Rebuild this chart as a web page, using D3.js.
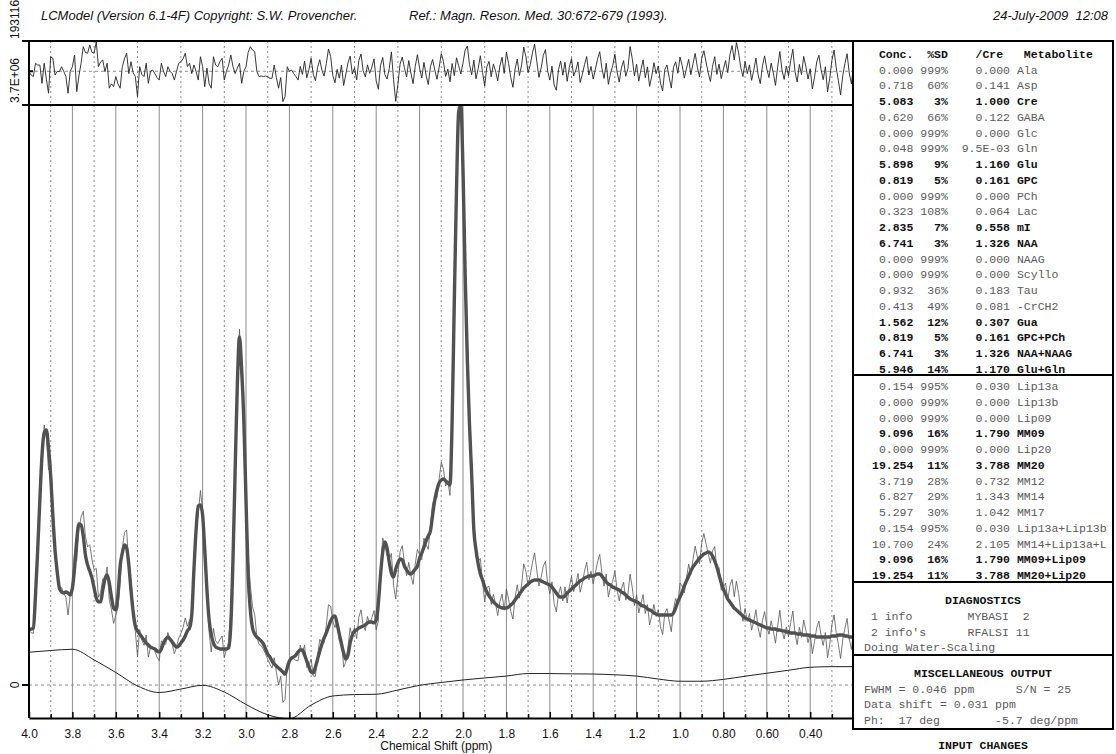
<!DOCTYPE html>
<html>
<head>
<meta charset="utf-8">
<script src="https://cdn.jsdelivr.net/npm/d3@7"></script>
<style>
  body { margin: 0; background: #fff; }
  svg text { white-space: pre; }
</style>
</head>
<body>
<svg id="chart" width="1116" height="754"></svg>
<script>
// ---------------- spectrum (values in units of 1e4) ----------------
const ppmStart = 4.0;
const ppmStep = 0.01;

// LCModel fit, sampled every 0.01 ppm from 4.00 down to 0.20
const fitValues = [
  35.1,35.7,36.4,57.4,86.1,118.0,146.7,160.8,162.7,151.2,
  133.3,107.8,86.1,72.1,61.9,59.3,58.7,59.3,58.7,57.4,
  61.9,74.6,92.5,102.7,102.1,95.1,82.9,76.6,72.7,68.3,
  61.9,55.5,53.0,53.0,60.6,67.6,70.2,65.1,56.1,49.1,
  47.9,57.4,75.9,84.2,89.3,87.4,76.6,60.6,46.6,37.6,
  34.5,32.5,30.6,28.7,26.8,25.5,24.2,23.6,23.0,21.7,
  21.1,23.0,26.8,29.3,30.6,29.3,27.4,25.5,24.2,24.9,
  26.8,28.7,31.3,34.5,36.4,44.7,73.4,98.9,114.2,114.8,
  108.5,86.1,60.6,41.5,31.9,26.8,24.2,23.6,23.0,23.0,
  23.0,23.0,23.6,38.3,79.8,137.2,191.4,222.0,201.0,169.1,
  118.0,70.2,47.9,36.4,32.5,30.6,29.3,28.1,26.2,23.0,
  19.8,17.9,15.3,13.4,12.1,10.8,9.6,8.3,7.0,10.8,
  15.3,17.2,17.9,19.1,21.1,22.3,22.3,19.1,15.3,11.5,
  8.3,7.7,11.5,16.6,21.7,26.2,30.0,33.2,37.0,40.8,
  43.4,44.0,38.9,32.5,26.2,20.4,16.6,19.1,26.8,31.9,
  34.5,35.1,36.4,37.0,37.6,38.3,39.6,40.2,40.2,39.6,
  41.5,52.3,70.2,84.9,91.2,87.4,78.5,71.5,68.9,74.0,
  77.8,80.4,79.8,75.9,73.4,71.5,70.8,72.1,74.0,75.9,
  81.0,84.2,88.0,91.9,95.1,98.3,108.5,118.0,124.4,128.9,
  130.8,131.4,130.2,128.9,127.6,169.1,245.6,315.8,365.6,370.0,
  328.6,261.6,207.4,165.9,134.0,98.9,86.1,77.2,70.8,67.0,
  62.5,59.3,56.8,54.9,53.0,51.7,50.4,49.8,49.1,49.1,
  49.1,49.8,51.0,52.3,54.2,56.1,58.1,60.0,61.9,63.2,
  64.4,65.7,66.4,67.0,67.0,67.0,66.4,65.7,65.1,64.4,
  63.8,62.5,60.6,58.7,56.8,56.1,56.1,56.8,58.7,60.0,
  61.2,62.5,63.8,65.1,66.4,67.0,68.3,68.9,69.5,69.5,
  69.5,70.2,70.8,70.8,69.5,67.6,65.7,64.4,63.8,62.5,
  61.9,61.2,60.6,59.3,58.7,57.4,56.1,54.9,54.2,53.6,
  53.0,52.3,51.0,50.4,49.8,48.5,47.9,47.2,45.9,45.3,
  44.7,44.7,44.7,44.7,44.7,44.7,44.7,45.9,49.1,53.0,
  56.1,59.3,63.2,66.4,69.5,72.7,75.3,77.2,79.1,81.0,
  82.3,83.6,84.2,84.9,84.2,82.3,79.1,75.3,70.2,65.1,
  61.2,58.1,54.9,53.0,51.0,49.1,47.9,46.6,45.3,44.0,
  42.7,42.1,41.5,40.8,40.2,39.6,38.9,38.3,37.6,37.0,
  36.4,36.4,35.7,35.7,35.7,35.1,35.1,34.5,34.5,33.8,
  33.8,33.2,33.2,33.2,32.5,32.5,32.5,31.9,31.9,31.9,
  31.3,31.3,31.3,30.6,30.6,30.6,30.6,30.6,30.6,30.6,
  31.3,31.3,31.3,31.9,31.9,31.9,31.3,31.3,30.6,30.6,
  30.6
];

// Residual (data minus fit), same sampling as the fit
const residualValues = [
  -0.3,-2.4,-3.4,5.1,4.0,4.0,-7.7,5.1,-5.0,-14.0,
  9.3,8.3,-2.4,0.0,-0.3,2.9,0.0,-3.4,-14.0,0.0,
  2.9,10.4,-13.0,-3.0,5.1,15.7,12.0,11.5,16.8,12.0,
  11.5,18.9,2.9,6.0,7.2,-0.3,5.1,-10.8,-8.0,-9.8,
  -3.4,-8.0,-10.8,2.9,8.0,11.5,-1.5,6.1,-1.0,-3.4,
  -16.2,2.9,-2.0,-3.4,5.1,-7.7,0.0,0.8,-1.5,-4.0,
  -5.6,5.1,0.0,-3.4,2.9,0.0,-1.5,-5.6,0.0,5.1,
  6.1,8.0,11.5,3.0,5.1,-1.5,4.0,0.0,-5.6,9.3,
  3.0,-9.8,2.0,-8.0,-10.8,9.3,4.0,2.9,6.1,8.3,
  -5.6,0.0,4.0,10.4,3.0,-1.5,2.0,5.1,-7.7,0.0,
  2.9,12.0,15.7,13.6,12.5,0.0,-3.4,-3.0,-3.4,-3.0,
  -3.4,-4.5,-4.5,4.0,-4.0,-10.8,-4.0,-19.4,-16.2,2.9,
  0.0,0.8,-1.5,-3.4,-5.6,3.1,-2.0,6.5,-4.2,1.0,
  8.3,-1.9,-6.0,2.5,7.4,0.6,-3.1,4.8,14.2,9.5,
  -2.6,-7.3,1.2,-4.4,3.9,-9.1,-2.0,5.4,9.7,-1.8,
  2.2,-5.5,6.9,11.0,0.4,-3.6,4.1,-1.3,2.7,7.9,
  -6.2,-11.5,3.8,8.8,-2.1,-4.9,1.6,12.4,-5.3,-19.2,
  -8.4,4.6,9.1,2.3,-3.7,6.8,-1.1,-7.9,3.2,10.6,
  1.9,-4.3,5.7,-2.6,-8.5,3.0,7.5,0.9,-5.1,2.4,
  11.3,6.2,-3.3,1.4,-6.7,4.9,-2.8,8.6,3.5,-1.7,
  5.3,13.6,16.1,4.4,-2.2,7.1,-4.8,1.8,9.9,-0.7,
  -9.4,2.9,6.3,-3.5,4.7,0.2,-6.1,3.4,8.9,-1.4,
  12.2,5.0,-4.0,-10.2,1.5,7.8,-2.7,3.9,15.4,9.2,
  -0.8,4.2,11.7,17.3,6.4,-3.9,2.1,10.1,13.8,0.3,
  -5.6,3.3,-8.7,-12.1,1.0,6.6,-2.5,5.8,-6.4,2.6,
  8.1,-3.0,0.7,6.0,-7.2,-1.9,4.3,9.4,-2.4,3.1,
  -5.0,1.3,7.7,12.5,2.0,-4.6,5.1,-8.3,-1.2,3.6,
  10.9,-0.5,-6.9,2.2,6.8,-3.2,1.7,15.8,8.0,-2.9,
  4.5,-6.3,0.9,7.3,-4.1,2.8,-9.6,-3.0,5.5,-1.6,
  3.4,-7.5,-12.6,1.1,4.0,-3.8,-10.7,2.5,6.1,-1.3,
  9.0,3.7,-4.4,1.9,7.6,-2.2,4.8,11.4,2.6,-3.6,
  8.2,13.1,5.9,-1.0,-6.5,3.2,9.3,-2.0,4.6,-4.7,
  1.2,6.9,-0.9,10.5,16.4,7.2,18.3,11.8,2.4,-3.4,
  6.2,-1.5,4.1,-5.8,0.6,8.4,-2.3,-7.9,3.5,9.8,
  1.4,-4.0,5.2,-1.1,-9.0,2.7,12.6,0.8,-5.2,3.3,
  -2.9,6.7,14.0,-0.3,-6.8,4.4,-2.1,9.5,3.0,-4.9,
  1.6,-11.3,-3.7,5.9,10.2,1.0,-5.4,2.9,-13.2,-4.6,
  7.0,13.5,2.1,-6.1,-15.0,-2.8,4.9,11.2,-1.2,-8.0,
  3.6
];

// Smooth baseline, every 0.1 ppm from 4.0 down to 0.2
const baselineStep = 0.1;
const baselineValues = [
  20.9,22.0,22.8,16.0,8.0,-0.6,-4.8,-2.6,-0.2,-4.5,
  -12.4,-19.0,-21.5,-12.8,-7.0,-6.1,-5.9,-3.2,-0.2,1.6,
  3.2,4.5,5.7,7.3,7.3,7.1,7.0,6.5,5.7,3.8,
  2.4,2.4,3.6,5.6,7.5,9.4,11.3,11.7,11.7
];

// ---------------- axes ----------------
const ppmDomain = [4.0, 0.2];
const xMajorTicks = [4.0,3.8,3.6,3.4,3.2,3.0,2.8,2.6,2.4,2.2,2.0,1.8,1.6,1.4,1.2,1.0,0.8,0.6,0.4];
const xTickLabels = ["4.0","3.8","3.6","3.4","3.2","3.0","2.8","2.6","2.4","2.2","2.0","1.8","1.6","1.4","1.2","1.0","0.80","0.60","0.40"];
const xMinorTicks = [3.9,3.7,3.5,3.3,3.1,2.9,2.7,2.5,2.3,2.1,1.9,1.7,1.5,1.3,1.1,0.9,0.7,0.5,0.3];
const xAxisTitle = "Chemical Shift (ppm)";
const yTopValue = 370;            // 3.7E+06
const yTopLabel = "3.7E+06";
const yZeroLabel = "0";
const residualTopValue = 19.3116; // 193116
const residualTopLabel = "193116";

// ---------------- header ----------------
const headerLeft = "LCModel (Version 6.1-4F) Copyright: S.W. Provencher.";
const headerMid = "Ref.: Magn. Reson. Med. 30:672-679 (1993).";
const headerRight = "24-July-2009  12:08";

// ---------------- concentration table ----------------
const metabNames = ["Ala","Asp","Cre","GABA","Glc","Gln","Glu","GPC","PCh","Lac","mI","NAA","NAAG","Scyllo","Tau","-CrCH2","Gua","GPC+PCh","NAA+NAAG","Glu+Gln"];
const metabConc  = ["0.000","0.718","5.083","0.620","0.000","0.048","5.898","0.819","0.000","0.323","2.835","6.741","0.000","0.000","0.932","0.413","1.562","0.819","6.741","5.946"];
const metabSD    = [999,60,3,66,999,999,9,5,999,108,7,3,999,999,36,49,12,5,3,14];
const metabCre   = ["0.000","0.141","1.000","0.122","0.000","9.5E-03","1.160","0.161","0.000","0.064","0.558","1.326","0.000","0.000","0.183","0.081","0.307","0.161","1.326","1.170"];

const lipNames = ["Lip13a","Lip13b","Lip09","MM09","Lip20","MM20","MM12","MM14","MM17","Lip13a+Lip13b","MM14+Lip13a+L","MM09+Lip09","MM20+Lip20"];
const lipConc  = ["0.154","0.000","0.000","9.096","0.000","19.254","3.719","6.827","5.297","0.154","10.700","9.096","19.254"];
const lipSD    = [995,999,999,16,999,11,28,29,30,995,24,16,11];
const lipCre   = ["0.030","0.000","0.000","1.790","0.000","3.788","0.732","1.343","1.042","0.030","2.105","1.790","3.788"];

const diagnosticsTitle = "DIAGNOSTICS";
const diagnosticsLines = [" 1 info        MYBASI  2", " 2 info's      RFALSI 11", "Doing Water-Scaling"];
const miscTitle = "MISCELLANEOUS OUTPUT";
const miscLines = ["FWHM = 0.046 ppm      S/N = 25", "Data shift = 0.031 ppm", "Ph:  17 deg        -5.7 deg/ppm"];
const inputTitle = "INPUT CHANGES";

// ================= drawing =================
const svg = d3.select("#chart");
const plotLeft = 29, plotRight = 853.6;
const resTop = 41, panelSplit = 105, mainBottom = 718, zeroY = 685;

const x = d3.scaleLinear().domain(ppmDomain).range([plotLeft, plotRight]);
const pxPerUnit = (zeroY - panelSplit) / yTopValue;
const y = d3.scaleLinear()
  .domain([-(mainBottom - zeroY) / pxPerUnit, yTopValue])
  .range([mainBottom, panelSplit]);
const yRes = d3.scaleLinear()
  .domain([residualTopValue - (panelSplit - resTop) / pxPerUnit, residualTopValue])
  .range([panelSplit, resTop]);

const ppmAt = i => ppmStart - i * ppmStep;

const defs = svg.append("defs");
defs.append("clipPath").attr("id", "clipMain").append("rect")
  .attr("x", plotLeft).attr("y", panelSplit).attr("width", plotRight - plotLeft).attr("height", mainBottom - panelSplit);
defs.append("clipPath").attr("id", "clipRes").append("rect")
  .attr("x", plotLeft).attr("y", resTop).attr("width", plotRight - plotLeft).attr("height", panelSplit - resTop);

// header
const sans = "'Liberation Sans', Arial, Helvetica, sans-serif";
const mono = "'Liberation Mono', 'Courier New', monospace";
svg.append("text").attr("x", 41).attr("y", 20).attr("font-family", sans).attr("font-style", "italic")
  .attr("font-size", 13).attr("fill", "#111").text(headerLeft);
svg.append("text").attr("x", 409).attr("y", 20).attr("font-family", sans).attr("font-style", "italic")
  .attr("font-size", 13).attr("fill", "#111").text(headerMid);
svg.append("text").attr("x", 1108).attr("y", 20).attr("text-anchor", "end").attr("font-family", sans)
  .attr("font-style", "italic").attr("font-size", 13).attr("fill", "#111").text(headerRight);

// grid lines
const gMain = svg.append("g").attr("clip-path", "url(#clipMain)");
const gRes = svg.append("g").attr("clip-path", "url(#clipRes)");

gMain.selectAll("line.major").data(xMajorTicks.slice(1)).join("line")
  .attr("x1", d => x(d)).attr("x2", d => x(d)).attr("y1", panelSplit).attr("y2", mainBottom)
  .attr("stroke", "#8c8c8c").attr("stroke-width", 1);
gMain.selectAll("line.minor").data(xMinorTicks).join("line")
  .attr("x1", d => x(d)).attr("x2", d => x(d)).attr("y1", panelSplit).attr("y2", mainBottom)
  .attr("stroke", "#8c8c8c").attr("stroke-width", 1).attr("stroke-dasharray", "2,3");
gRes.selectAll("line.minor").data(xMinorTicks).join("line")
  .attr("x1", d => x(d)).attr("x2", d => x(d)).attr("y1", resTop).attr("y2", panelSplit)
  .attr("stroke", "#8c8c8c").attr("stroke-width", 1).attr("stroke-dasharray", "2,3");

// zero lines
gMain.append("line").attr("x1", plotLeft).attr("x2", plotRight).attr("y1", y(0)).attr("y2", y(0))
  .attr("stroke", "#8c8c8c").attr("stroke-dasharray", "3,3");
gRes.append("line").attr("x1", plotLeft).attr("x2", plotRight).attr("y1", yRes(0)).attr("y2", yRes(0))
  .attr("stroke", "#8c8c8c").attr("stroke-dasharray", "3,3");

// baseline
const baselineLine = d3.line()
  .x((d, i) => x(ppmStart - i * baselineStep)).y(d => y(d)).curve(d3.curveMonotoneX);
gMain.append("path").datum(baselineValues).attr("d", baselineLine)
  .attr("fill", "none").attr("stroke", "#222").attr("stroke-width", 1);

// fit (thick) and measured data (thin); data = fit + residual
const dataValues = residualValues.map((r, i) => fitValues[i] + r);
gMain.append("path").datum(fitValues)
  .attr("d", d3.line().x((d, i) => x(ppmAt(i))).y(d => y(d)).curve(d3.curveMonotoneX))
  .attr("fill", "none").attr("stroke", "#505050").attr("stroke-width", 3.4).attr("stroke-linejoin", "round");
gMain.append("path").datum(dataValues)
  .attr("d", d3.line().x((d, i) => x(ppmAt(i))).y(d => y(d)))
  .attr("fill", "none").attr("stroke", "#555").attr("stroke-width", 0.8);

// residual panel
gRes.append("path").datum(residualValues)
  .attr("d", d3.line().x((d, i) => x(ppmAt(i))).y(d => yRes(d)))
  .attr("fill", "none").attr("stroke", "#222").attr("stroke-width", 0.9);

// frame lines
const frame = svg.append("g").attr("stroke", "#000").attr("stroke-width", 2);
frame.append("line").attr("x1", plotLeft).attr("x2", plotRight).attr("y1", resTop).attr("y2", resTop);
frame.append("line").attr("x1", plotLeft).attr("x2", plotRight).attr("y1", panelSplit).attr("y2", panelSplit);
frame.append("line").attr("x1", plotLeft).attr("x2", plotLeft).attr("y1", resTop).attr("y2", mainBottom);

// bottom axis: inward ticks, labels below
const xAxis = d3.axisBottom(x).tickValues(xMajorTicks).tickSize(-6).tickSizeOuter(0).tickPadding(11)
  .tickFormat((d, i) => xTickLabels[i]);
const gx = svg.append("g").attr("transform", `translate(0,${mainBottom})`).call(xAxis);
gx.select(".domain").attr("stroke-width", 2);
gx.selectAll(".tick line").attr("stroke-width", 1.5);
gx.selectAll(".tick text").attr("font-family", sans).attr("font-size", 12).attr("fill", "#111");
const xAxisMinor = d3.axisBottom(x).tickValues(xMinorTicks).tickSize(-4).tickSizeOuter(0).tickFormat("");
const gxm = svg.append("g").attr("transform", `translate(0,${mainBottom})`).call(xAxisMinor);
gxm.select(".domain").remove();
gxm.selectAll(".tick line").attr("stroke-width", 1.5);
svg.append("text").attr("x", (plotLeft + plotRight) / 2 - 5).attr("y", 750).attr("text-anchor", "middle")
  .attr("font-family", sans).attr("font-size", 12).attr("fill", "#111").text(xAxisTitle);

// left axis ticks and rotated labels
const leftTicks = svg.append("g").attr("stroke", "#000").attr("stroke-width", 2);
leftTicks.append("line").attr("x1", 22).attr("x2", plotLeft).attr("y1", y(0)).attr("y2", y(0));
leftTicks.append("line").attr("x1", 22).attr("x2", plotLeft).attr("y1", y(yTopValue)).attr("y2", y(yTopValue));
leftTicks.append("line").attr("x1", plotLeft).attr("x2", plotLeft + 4).attr("y1", yRes(0)).attr("y2", yRes(0));
leftTicks.append("line").attr("x1", 22).attr("x2", plotLeft).attr("y1", yRes(residualTopValue)).attr("y2", yRes(residualTopValue));

function rotLabel(txt, cy, anchor) {
  svg.append("text").attr("transform", `translate(19,${cy}) rotate(-90)`).attr("text-anchor", anchor)
    .attr("font-family", sans).attr("font-size", 12).attr("fill", "#111").text(txt);
}
rotLabel(yZeroLabel, y(0), "middle");
rotLabel(yTopLabel, y(yTopValue) - 2, "start");
rotLabel(residualTopLabel, yRes(residualTopValue) - 2, "start");

// ---------------- table ----------------
const tLeft = 853, tRight = 1113, tTop = 41, tBottom = 729;
const sep1 = 375, sep2 = 582, sep3 = 655;
const tbl = svg.append("g");
tbl.append("rect").attr("x", tLeft).attr("y", tTop).attr("width", tRight - tLeft).attr("height", tBottom - tTop)
  .attr("fill", "none").attr("stroke", "#000").attr("stroke-width", 2);
[sep1, sep2, sep3].forEach(s => tbl.append("line").attr("x1", tLeft).attr("x2", tRight)
  .attr("y1", s).attr("y2", s).attr("stroke", "#000").attr("stroke-width", 2));

const colX = 872, rowPitch = 15.75;
function monoText(str, xx, yy, bold) {
  tbl.append("text").attr("x", xx).attr("y", yy).attr("font-family", mono).attr("font-size", 11.5)
    .attr("font-weight", bold ? "bold" : "normal").attr("fill", bold ? "#111" : "#5a5a5a").text(str);
}
const fmtRow = (c, s, r, n) => c.padStart(6) + " " + (s + "%").padStart(4) + r.padStart(9) + " " + n;

monoText(" Conc.  %SD    /Cre   Metabolite", colX, 58, true);
metabNames.forEach((n, i) => monoText(fmtRow(metabConc[i], metabSD[i], metabCre[i], n), colX, 73.5 + i * rowPitch, metabSD[i] <= 20));
lipNames.forEach((n, i) => monoText(fmtRow(lipConc[i], lipSD[i], lipCre[i], n), colX, 390 + i * rowPitch, lipSD[i] <= 20));

const tMid = (tLeft + tRight) / 2;
function centerTitle(t, yy) {
  tbl.append("text").attr("x", tMid).attr("y", yy).attr("text-anchor", "middle").attr("font-family", mono)
    .attr("font-size", 11.5).attr("font-weight", "bold").attr("fill", "#111").text(t);
}
centerTitle(diagnosticsTitle, 604);
diagnosticsLines.forEach((l, i) => monoText(l, 864, 620 + i * 15.6, false));
centerTitle(miscTitle, 677);
miscLines.forEach((l, i) => monoText(l, 864, 692.5 + i * 15.8, false));
centerTitle(inputTitle, 749);
</script>
</body>
</html>
